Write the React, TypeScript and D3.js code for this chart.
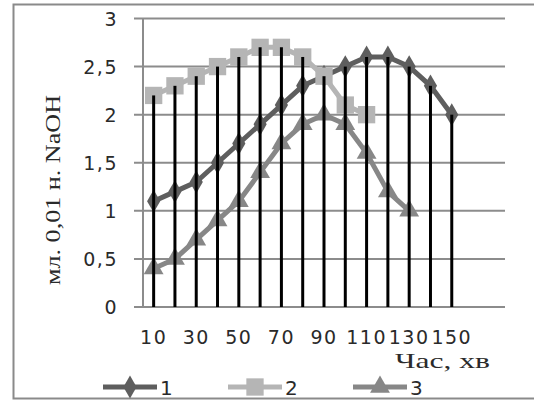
import React from 'react';
import * as d3 from 'd3';

// categories (minutes); the last two are empty slots in the original sheet
const categories = [10, 20, 30, 40, 50, 60, 70, 80, 90, 100, 110, 120, 130, 140, 150, 160, 170];
const tickLabels = ['10', '30', '50', '70', '90', '110', '130', '150'];
const yTicks = [0, 0.5, 1, 1.5, 2, 2.5, 3];

const series1 = [1.1, 1.2, 1.3, 1.5, 1.7, 1.9, 2.1, 2.3, 2.4, 2.5, 2.6, 2.6, 2.5, 2.3, 2.0];
const series2 = [2.2, 2.3, 2.4, 2.5, 2.6, 2.7, 2.7, 2.6, 2.4, 2.1, 2.0];
const series3 = [0.4, 0.5, 0.7, 0.9, 1.1, 1.4, 1.7, 1.9, 2.0, 1.9, 1.6, 1.2, 1.0];

const seriesNames = ['1', '2', '3'];
const seriesColors = ['#5e5e5e', '#b5b5b5', '#878787'];
const markerTypes = [d3.symbolDiamond, d3.symbolSquare, d3.symbolTriangle];
const markerSizes = [150, 300, 170];

const W = 534;
const H = 400;

export default function App() {
  const x = d3.scaleBand<number>().domain(categories).range([143, 505]).padding(0);
  const y = d3.scaleLinear().domain([0, 3]).range([307, 18.5]);
  const cx = (c: number) => (x(c) ?? 0) + x.bandwidth() / 2;

  const allSeries = [series1, series2, series3];
  const line = d3.line<number>()
    .x((_, i) => cx(categories[i]))
    .y(d => y(d));

  // drop lines: from the highest point of any series down to the axis
  const dropTops = categories
    .map((c, i) => {
      const vals = allSeries.map(s => s[i]).filter(v => v !== undefined);
      return vals.length ? { c, v: d3.max(vals) as number } : null;
    })
    .filter(Boolean) as { c: number; v: number }[];

  const legendX = [103, 228, 353];
  const legendY = 387;

  return (
    <svg width={W} height={H} style={{ position: 'absolute', left: 0, top: 0, background: '#fff' }}>
      <rect x={13.5} y={4.5} width={530} height={394} fill="#fff" stroke="#8a8a8a" strokeWidth={2} />

      {/* grid */}
      {yTicks.map(t => (
        <line key={t} x1={134} x2={505} y1={y(t)} y2={y(t)} stroke="#8c8c8c" strokeWidth={2} />
      ))}
      <line x1={143} x2={143} y1={y(3)} y2={y(0)} stroke="#8c8c8c" strokeWidth={2} />

      {yTicks.map(t => (
        <text key={t} x={118} y={y(t) + 7} textAnchor="end" fontFamily="DejaVu Sans" fontSize={19}
          letterSpacing={1.5} fill="#2a2a2a">
          {String(t).replace('.', ',')}
        </text>
      ))}

      {tickLabels.map(l => (
        <text key={l} x={cx(+l)} y={344} textAnchor="middle" fontFamily="DejaVu Sans" fontSize={19}
          letterSpacing={1.5} fill="#2a2a2a">
          {l}
        </text>
      ))}

      <text x={395} y={368} fontFamily="Liberation Serif" fontSize={22} textLength={95}
        lengthAdjust="spacingAndGlyphs" fill="#2a2a2a">Час, хв</text>

      <text transform="translate(60,190) rotate(-90)" textAnchor="middle" fontFamily="Liberation Serif"
        fontSize={22} textLength={190} lengthAdjust="spacingAndGlyphs" fill="#2a2a2a">мл. 0,01 н. NaOH</text>

      {/* series */}
      {allSeries.map((s, k) => (
        <g key={k}>
          <path d={line(s) ?? ''} fill="none" stroke={seriesColors[k]} strokeWidth={5} strokeLinejoin="round" />
          {s.map((v, i) => (
            <path key={i} d={d3.symbol().type(markerTypes[k]).size(markerSizes[k])() ?? ''}
              transform={`translate(${cx(categories[i])},${y(v)})`} fill={seriesColors[k]} />
          ))}
        </g>
      ))}

      {dropTops.map(d => (
        <line key={d.c} x1={cx(d.c)} x2={cx(d.c)} y1={y(d.v)} y2={y(0)} stroke="#000" strokeWidth={3} />
      ))}

      {/* legend */}
      {seriesNames.map((n, k) => (
        <g key={n}>
          <line x1={legendX[k]} x2={legendX[k] + 54} y1={legendY} y2={legendY} stroke={seriesColors[k]} strokeWidth={5} />
          <path d={d3.symbol().type(markerTypes[k]).size(markerSizes[k])() ?? ''}
            transform={`translate(${legendX[k] + 27},${legendY})`} fill={seriesColors[k]} />
          <text x={legendX[k] + 57} y={legendY + 8} fontFamily="DejaVu Sans" fontSize={20} fill="#2a2a2a">{n}</text>
        </g>
      ))}
    </svg>
  );
}
